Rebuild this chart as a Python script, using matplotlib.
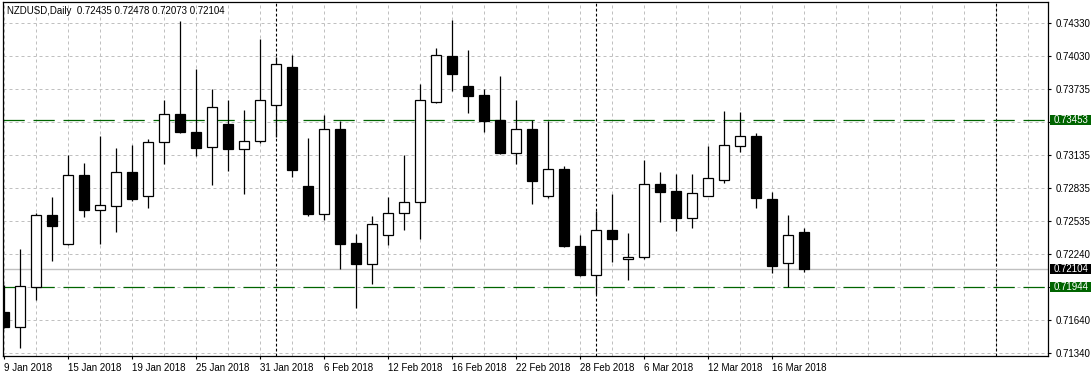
import numpy as np
import matplotlib
matplotlib.use("Agg")
import matplotlib.pyplot as plt
from matplotlib.patches import Rectangle
from matplotlib.transforms import blended_transform_factory

plt.rcParams['font.family'] = ['Liberation Sans', 'DejaVu Sans']

# NZDUSD daily bars, 9 Jan 2018 .. 20 Mar 2018
opens = [0.71714, 0.71581, 0.71943, 0.72593, 0.72328, 0.72955, 0.72641, 0.72677, 0.72980, 0.72768,
         0.73257, 0.73505, 0.73342, 0.73206, 0.73418, 0.73194, 0.73261, 0.73592, 0.73934, 0.72856,
         0.72599, 0.73370, 0.72339, 0.72152, 0.72409, 0.72608, 0.72708, 0.73620, 0.74034, 0.73762,
         0.73678, 0.73451, 0.73158, 0.73370, 0.72768, 0.73007, 0.72309, 0.72052, 0.72457, 0.72192,
         0.72215, 0.72871, 0.72808, 0.72569, 0.72768, 0.72913, 0.73221, 0.73306, 0.72735, 0.72155,
         0.72435]
highs = [0.71959, 0.72288, 0.72614, 0.72759, 0.73137, 0.73064, 0.73312, 0.73200, 0.73227, 0.73282,
         0.73635, 0.74351, 0.73916, 0.73732, 0.73635, 0.73544, 0.74188, 0.74022, 0.74043, 0.73293,
         0.73499, 0.73447, 0.72421, 0.72584, 0.72756, 0.73139, 0.73780, 0.74106, 0.74360, 0.74088,
         0.73735, 0.73850, 0.73635, 0.73451, 0.73447, 0.73037, 0.72412, 0.72627, 0.72783, 0.72430,
         0.73091, 0.72983, 0.72965, 0.72965, 0.73218, 0.73535, 0.73526, 0.73336, 0.72799, 0.72593,
         0.72478]
lows = [0.71570, 0.71391, 0.71823, 0.72176, 0.72325, 0.72575, 0.72328, 0.72442, 0.72720, 0.72656,
        0.73055, 0.73339, 0.73130, 0.72868, 0.72989, 0.72786, 0.73243, 0.73302, 0.72940, 0.72587,
        0.72548, 0.72101, 0.71753, 0.71970, 0.72324, 0.72460, 0.72378, 0.73611, 0.73719, 0.73520,
        0.73345, 0.73146, 0.73055, 0.72695, 0.72747, 0.72306, 0.72043, 0.71877, 0.72167, 0.72007,
        0.72197, 0.72532, 0.72448, 0.72475, 0.72765, 0.72886, 0.73164, 0.72659, 0.72070, 0.71944,
        0.72073]
closes = [0.71578, 0.71950, 0.72590, 0.72493, 0.72955, 0.72638, 0.72681, 0.72980, 0.72738, 0.73252,
          0.73505, 0.73348, 0.73203, 0.73569, 0.73194, 0.73261, 0.73632, 0.73958, 0.73001, 0.72605,
          0.73370, 0.72333, 0.72152, 0.72509, 0.72608, 0.72708, 0.73635, 0.74040, 0.73873, 0.73671,
          0.73447, 0.73158, 0.73370, 0.72904, 0.73007, 0.72312, 0.72049, 0.72457, 0.72378, 0.72212,
          0.72871, 0.72804, 0.72569, 0.72790, 0.72926, 0.73225, 0.73306, 0.72750, 0.72134, 0.72409,
          0.72104]

date_labels = ["9 Jan 2018", "15 Jan 2018", "19 Jan 2018", "25 Jan 2018", "31 Jan 2018",
               "6 Feb 2018", "12 Feb 2018", "16 Feb 2018", "22 Feb 2018", "28 Feb 2018",
               "6 Mar 2018", "12 Mar 2018", "16 Mar 2018"]
# 0.73435 and 0.71940 sit under the level boxes, so they are left blank
price_labels = ["0.74330", "0.74030", "0.73735", "", "0.73135", "0.72835",
                "0.72535", "0.72240", "", "0.71640", "0.71340"]
month_starts = [17, 37, 62]   # bar index of 1 Feb, 1 Mar, 1 Apr
resistance = 0.73453
support = 0.71944
bid = 0.72104

GREEN = '#006400'
GRID = '#c0c0c0'

W, H = 1091, 377
fig = plt.figure(figsize=(W / 100, H / 100), dpi=100)
ax = fig.add_axes([2.7 / W, 1 - 355.7 / H, (1048.3 - 2.7) / W, (355.7 - 2.3) / H])

n = len(opens)
x = np.arange(n)
o = np.array(opens); c = np.array(closes)
hi = np.array(highs); lo = np.array(lows)

# grid
ytick_pos = np.linspace(0.74330, 0.71340, len(price_labels))
for y in ytick_pos:
    ax.axhline(y, color=GRID, lw=0.72, ls=(0, (3, 3)), zorder=0)
for gx in range(0, 66, 2):
    ax.axvline(gx, color=GRID, lw=0.72, ls=(0, (3, 3)), zorder=0)

# period separators
for m in month_starts:
    ax.axvline(m, color='black', lw=0.8, ls=(0, (2.5, 2)), zorder=1)

# bid line and levels
ax.axhline(bid, color=GRID, lw=1.0, zorder=1)
ax.axhline(resistance, color=GREEN, lw=0.9, ls=(0, (17, 7)), zorder=1)
ax.axhline(support, color=GREEN, lw=0.9, ls=(0, (17, 7)), zorder=1)

# candles
ax.vlines(x, lo, hi, color='black', lw=0.9, zorder=2)
body_lo = np.minimum(o, c)
body_h = np.maximum(np.abs(c - o), 0.00002)
colors = ['white' if cc >= oo else 'black' for oo, cc in zip(o, c)]
ax.bar(x, body_h, bottom=body_lo, width=0.625, color=colors,
       edgecolor='black', linewidth=0.9, zorder=3)

ax.set_xlim(-0.0625, 65.29)
ax.set_ylim(0.713183, 0.74520)

# axes styling
for s in ax.spines.values():
    s.set_linewidth(0.9)
ax.yaxis.tick_right()
ax.set_yticks(ytick_pos)
ax.set_yticklabels(price_labels)
ax.set_xticks(np.arange(0, 4 * len(date_labels), 4))
ax.set_xticklabels(date_labels, ha='left')
ax.tick_params(axis='both', labelsize=7, length=2.5, width=0.8, direction='out')
ax.tick_params(axis='x', pad=3)
ax.tick_params(axis='y', pad=3)

# price boxes on right scale
tr = blended_transform_factory(ax.transAxes, ax.transData)
px_y = (0.74520 - 0.713183) / (355.7 - 2.3)
box_x0 = (1050 - 2.7) / (1048.3 - 2.7)
box_w = 41 / (1048.3 - 2.7)
txt_x = (1054 - 2.7) / (1048.3 - 2.7)
for val, fc in [(resistance, GREEN), (bid, 'black'), (support, GREEN)]:
    ax.add_patch(Rectangle((box_x0, val - 5 * px_y), box_w, 10 * px_y, transform=tr,
                           facecolor=fc, edgecolor='none', clip_on=False, zorder=10))
    ax.text(txt_x, val, f"{val:.5f}", transform=tr, color='white', fontsize=7,
            va='center', ha='left', clip_on=False, zorder=11)

fig.text(7 / W, 1 - 11 / H, "NZDUSD,Daily  0.72435 0.72478 0.72073 0.72104",
         fontsize=7, va='center', ha='left', color='black')

fig.savefig("out.png", dpi=100)
